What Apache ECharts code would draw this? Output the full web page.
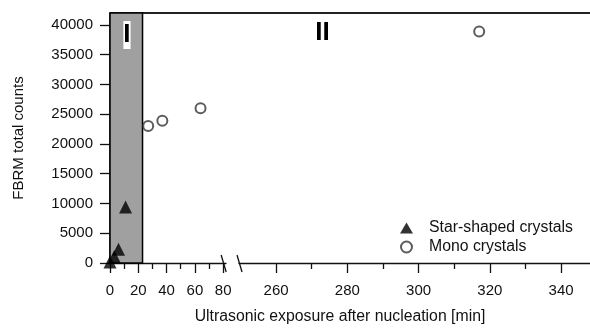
<!DOCTYPE html>
<html>
<head>
<meta charset="utf-8">
<script src="https://cdn.jsdelivr.net/npm/echarts@6/dist/echarts.min.js"></script>
<style>
  html, body { margin: 0; padding: 0; background: #fff; }
  #chart { width: 590px; height: 329px; }
</style>
</head>
<body>
<div id="chart"></div>
<script>
// FBRM counts versus ultrasonic exposure time, broken x axis (0–80 | 260–340)
const starCrystals = [[0, 150], [3, 1100], [6, 2300], [11, 9400]];
const monoCrystalsEarly = [[27, 23000], [37, 23900], [64, 26000]];
const monoCrystalsLate = [[317, 38900]];

const seriesNames = ['Star-shaped crystals', 'Mono crystals'];
const regionNames = ['I', 'II'];
const regionIEnd = 23;
const xTitle = 'Ultrasonic exposure after nucleation [min]';
const yTitle = 'FBRM total counts';

const xTicksLeft = [0, 20, 40, 60, 80];
const xMinorLeft = [10, 30, 50, 70];
const xTicksRight = [260, 280, 300, 320, 340];
const xMinorRight = [270, 290, 310, 330];
const yTicks = [0, 5000, 10000, 15000, 20000, 25000, 30000, 35000, 40000];

const FONT = 'Liberation Sans, Arial, sans-serif';
const INK = '#111';
const plain = v => String(v);

const chart = echarts.init(document.getElementById('chart'));

function majorAxis(gridIndex, min, max, ticks) {
  return {
    type: 'value', gridIndex, min, max, position: 'bottom',
    axisLine: { show: true, lineStyle: { color: INK, width: 1.3 } },
    axisTick: { show: true, customValues: ticks, length: 10, lineStyle: { color: INK, width: 1.3 } },
    axisLabel: { show: true, customValues: ticks, formatter: plain, margin: 20, color: INK, fontFamily: FONT, fontSize: 15 },
    splitLine: { show: false }
  };
}
function minorAxis(gridIndex, min, max, ticks) {
  return {
    type: 'value', gridIndex, min, max, position: 'bottom',
    axisLine: { show: false },
    axisTick: { show: true, customValues: ticks, length: 6, lineStyle: { color: INK, width: 1.3 } },
    axisLabel: { show: false },
    splitLine: { show: false }
  };
}
function yAxis(gridIndex, visible) {
  return {
    type: 'value', gridIndex, min: 0, max: 42000,
    name: visible ? yTitle : '',
    nameLocation: 'middle', nameGap: 84,
    nameTextStyle: { color: INK, fontFamily: FONT, fontSize: 15 },
    axisLine: { show: visible, lineStyle: { color: INK, width: 1.5 } },
    axisTick: { show: visible, customValues: yTicks, length: 10, lineStyle: { color: INK, width: 1.3 } },
    axisLabel: { show: visible, customValues: yTicks, formatter: plain, margin: 17, color: INK, fontFamily: FONT, fontSize: 15 },
    splitLine: { show: false }
  };
}

const regionLabel = {
  show: true, position: 'inside', color: '#000',
  fontFamily: FONT, fontSize: 26, fontWeight: 'bold'
};
const circleStyle = { color: '#333', borderColor: '#333', borderWidth: 1 };

chart.setOption({
  animation: false,
  backgroundColor: '#fff',
  grid: [
    { left: 110, top: 13, width: 116, height: 250 },
    { left: 239, top: 13, width: 351, height: 250 }
  ],
  xAxis: [
    majorAxis(0, 0, 82, xTicksLeft),
    majorAxis(1, 249.6, 348.1, xTicksRight),
    minorAxis(0, 0, 82, xMinorLeft),
    minorAxis(1, 249.6, 348.1, xMinorRight)
  ],
  yAxis: [yAxis(0, true), yAxis(1, false)],
  legend: {
    orient: 'vertical', left: 395, top: 215,
    itemWidth: 13, itemHeight: 11, itemGap: 3,
    data: [
      { name: seriesNames[0], icon: 'triangle' },
      { name: seriesNames[1], icon: 'emptyCircle' }
    ],
    textStyle: { color: INK, fontFamily: FONT, fontSize: 15.8, lineHeight: 16, padding: [0, 0, 0, 11] }
  },
  series: [
    {
      name: seriesNames[0], type: 'scatter', xAxisIndex: 0, yAxisIndex: 0,
      symbol: 'triangle', symbolSize: 13, z: 5,
      itemStyle: { color: '#000' },
      data: starCrystals,
      markArea: {
        silent: true,
        itemStyle: { color: '#a0a0a0', borderColor: '#000', borderWidth: 1.5 },
        data: [[{ xAxis: 0, yAxis: 0 }, { xAxis: regionIEnd, yAxis: 42000 }]]
      },
      markPoint: {
        symbol: 'rect', symbolSize: 0.1,
        label: Object.assign({}, regionLabel, { backgroundColor: '#fff', padding: [2, 0, 0, 0], lineHeight: 26 }),
        data: [{ coord: [12, 38300], value: regionNames[0], label: { formatter: regionNames[0] } }]
      }
    },
    {
      name: seriesNames[1], type: 'scatter', xAxisIndex: 0, yAxisIndex: 0,
      symbol: 'emptyCircle', symbolSize: 10, z: 5,
      itemStyle: circleStyle,
      data: monoCrystalsEarly
    },
    {
      name: seriesNames[1], type: 'scatter', xAxisIndex: 1, yAxisIndex: 1,
      symbol: 'emptyCircle', symbolSize: 10, z: 5,
      itemStyle: circleStyle,
      data: monoCrystalsLate,
      markPoint: {
        symbol: 'rect', symbolSize: 0.1,
        label: regionLabel,
        data: [{ coord: [273, 38600], value: regionNames[1], label: { formatter: regionNames[1] } }]
      }
    }
  ]
});

// frame top edge, axis-break slashes and the x-axis title, placed from the axis scales
const topY = chart.convertToPixel({ yAxisIndex: 0 }, 42000);
const baseY = chart.convertToPixel({ yAxisIndex: 0 }, 0);
const leftX = chart.convertToPixel({ xAxisIndex: 0 }, 0);
const rightX = chart.convertToPixel({ xAxisIndex: 1 }, 348.1);
const breakA = chart.convertToPixel({ xAxisIndex: 0 }, 80);
const breakB = chart.convertToPixel({ xAxisIndex: 1 }, 249.6);

function slash(x) {
  return {
    type: 'line', silent: true,
    shape: { x1: x - 3, y1: baseY - 8, x2: x + 2, y2: baseY + 9 },
    style: { stroke: INK, lineWidth: 1.3 }
  };
}

chart.setOption({
  graphic: [
    {
      type: 'line', silent: true,
      shape: { x1: leftX, y1: topY, x2: rightX, y2: topY },
      style: { stroke: '#222', lineWidth: 2 }
    },
    slash(breakA + 1),
    slash(breakB + 1),
    {
      type: 'text', silent: true,
      x: (leftX + rightX) / 2 - 10, y: baseY + 54,
      style: {
        text: xTitle, fill: INK, font: '15.8px ' + FONT,
        textAlign: 'center', textVerticalAlign: 'middle'
      }
    }
  ]
});
</script>
</body>
</html>
